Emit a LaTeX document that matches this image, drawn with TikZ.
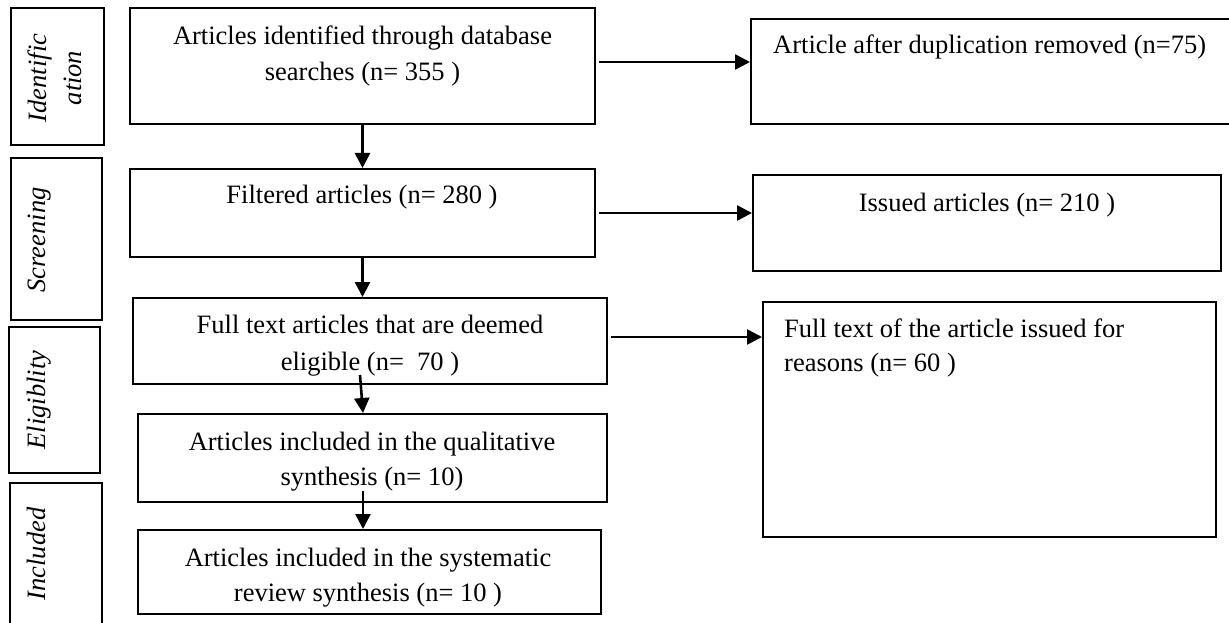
\documentclass[tikz,border=0pt]{standalone}
\usepackage{fontspec}
\setmainfont{Liberation Serif}
\usetikzlibrary{arrows.meta}
\begin{document}
\begin{tikzpicture}[x=1pt,y=-1pt,
  box/.style={draw, line width=2pt, rectangle, inner sep=0pt},
  txt/.style={inner sep=0pt, font=\fontsize{26.5pt}{#1}\selectfont, align=center},
  txt/.default={36pt},
  lbl/.style={inner sep=0pt, font=\itshape\fontsize{26.5pt}{35pt}\selectfont, rotate=90, anchor=north, align=center},
  arr/.style={line width=2.6pt, -{Triangle[length=15pt,width=15pt]}}
]
\useasboundingbox (0,0) rectangle (1229,623);
\clip (0,0) rectangle (1229,623);

% stage label boxes
\node[box, minimum width=93pt, minimum height=137pt] (l1) at (57.5,76.5) {};
\node[box, minimum width=91pt, minimum height=162pt] (l2) at (56.5,239) {};
\node[box, minimum width=91pt, minimum height=146pt] (l3) at (54.5,400) {};
\node[box, minimum width=92pt, minimum height=177pt] (l4) at (56,571.5) {};
\node[lbl] (l1t) at (28,78) {Identific\\ation};
\node[lbl] (l2t) at (28,240) {Screening};
\node[lbl] (l3t) at (27,400) {Eligiblity};
\node[lbl] (l4t) at (27,554) {Included};

% main column boxes
\node[box, minimum width=465pt, minimum height=116pt] (b1) at (362.5,66) {};
\node[box, minimum width=465pt, minimum height=88pt] (b2) at (362.5,213) {};
\node[box, minimum width=474pt, minimum height=86pt] (b3) at (370,341) {};
\node[box, minimum width=469pt, minimum height=88pt] (b4) at (372.5,458) {};
\node[box, minimum width=463pt, minimum height=84pt] (b5) at (369.5,572) {};

\node[txt, anchor=north] (b1t) at (362.5,26) {Articles identified through database\\searches (n= 355 )};
\node[txt, anchor=base] (b2t) at (362,204) {Filtered articles (n= 280 )};
\node[txt=37pt, anchor=north] (b3t) at (370,315) {Full text articles that are deemed\\eligible (n=\ \ 70 )};
\node[txt=35pt, anchor=north] (b4t) at (372,432) {Articles included in the qualitative\\synthesis (n= 10)};
\node[txt=35pt, anchor=north] (b5t) at (368,548) {Articles included in the systematic\\review synthesis (n= 10 )};

% right column boxes
\node[box, minimum width=509pt, minimum height=105pt] (r1) at (1005.5,71.5) {};
\node[box, minimum width=468pt, minimum height=96pt] (r2) at (987,223) {};
\node[box, minimum width=453pt, minimum height=235pt] (r3) at (989.5,419.5) {};

\node[txt, anchor=base west] (r1t) at (773,54) {Article after duplication removed (n=75)};
\node[txt, anchor=base] (r2t) at (987,211) {Issued articles (n= 210 )};
\node[txt=34pt, align=left, anchor=north west] (r3t) at (784,319) {Full text of the article issued for\\reasons (n= 60 )};

% connectors
\coordinate (h1s) at ([shift={(3pt,4pt)}]b1.east);
\coordinate (h2s) at ([xshift=3pt]b2.east);
\coordinate (h3s) at ([shift={(3pt,4pt)}]b3.east);
\draw[arr] (h1s) -- (h1s -| r1.west);
\draw[arr] (h2s) -- (h2s -| r2.west);
\draw[arr] (h3s) -- (h3s -| r3.west);

\coordinate (v3s) at (360,375);
\coordinate (v4s) at (363,491);
\draw[arr] (b1.south) -- (b2.north);
\draw[arr] (b2.south) -- (b2.south |- b3.north);
\draw[arr] (v3s) -- ([xshift=-9.5pt]b4.north);
\draw[arr] (v4s) -- (v4s |- b5.north);
\end{tikzpicture}
\end{document}
